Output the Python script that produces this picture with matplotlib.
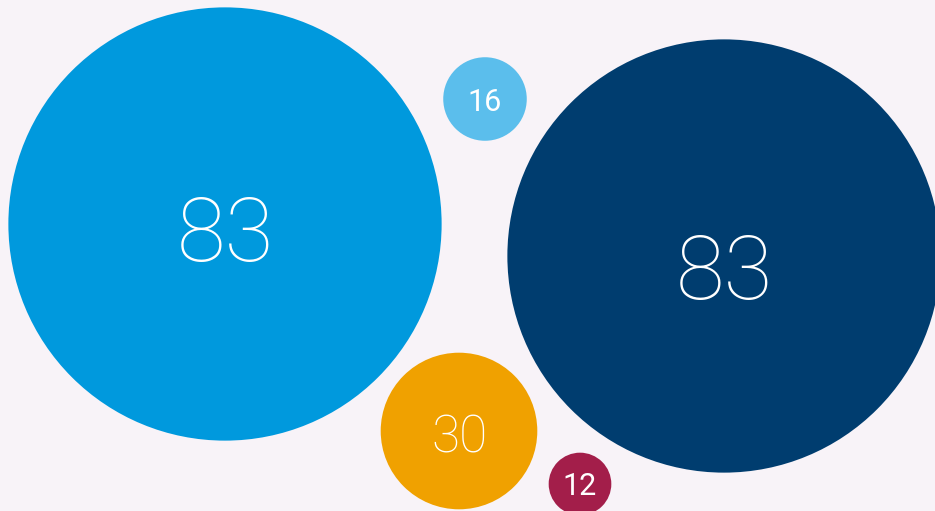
import matplotlib.pyplot as plt
from matplotlib.patches import Circle

values = [83, 16, 83, 30, 12]
labels = ["83", "16", "83", "30", "12"]

# bubble layout (centres in canvas units) and colours
centres = [(225, 224), (485, 99), (724, 256), (459, 431), (580, 484)]
colors = ["#0099DD", "#5BBEEC", "#003D6F", "#F0A100", "#A31E4A"]
font_sizes = [64, 22, 64, 37, 22]
weights = ["light", "normal", "light", "light", "normal"]
label_dy = [4, 0, 10, 2, 0]
px_per_unit = 2.61  # radius scales with value

fig = plt.figure(figsize=(9.35, 5.11), dpi=100)
fig.patch.set_facecolor("#F8F3F8")
ax = fig.add_axes([0, 0, 1, 1])
ax.set_facecolor("#F8F3F8")
ax.set_xlim(0, 935)
ax.set_ylim(511, 0)
ax.set_aspect("equal")
ax.axis("off")

for v, lab, (cx, cy), c, fs, w, dy in zip(values, labels, centres, colors,
                                          font_sizes, weights, label_dy):
    r = v * px_per_unit
    ax.add_patch(Circle((cx, cy), r, color=c, lw=0))
    ax.text(cx, cy + dy, lab, ha="center", va="center_baseline", color="white",
            fontsize=fs, family="Roboto", fontweight=w)

fig.savefig("out.png", dpi=100, facecolor=fig.get_facecolor())
